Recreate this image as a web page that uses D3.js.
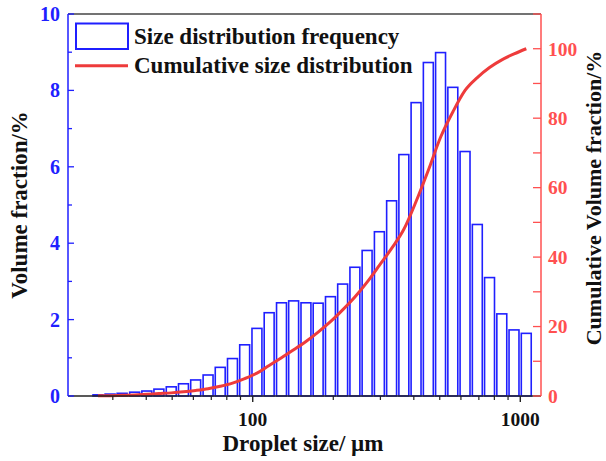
<!DOCTYPE html>
<html lang="en">
<head>
    <meta charset="UTF-8">
    <title>Droplet size distribution</title>
    <script src="https://d3js.org/d3.v7.min.js"></script>
    <style>
        body { margin: 0; background: #fff; }
        text { font-family: "Liberation Serif", "Times New Roman", serif; font-weight: bold; }
    </style>
</head>
<body>
    <div id="chart"></div>
    <script>
        // droplet size (bin centre, um)
        const sizes = [26.4, 29.3, 32.5, 36.2, 40.2, 44.6, 49.6, 55.1, 61.2, 68.1, 75.6, 84.0,
            93.3, 103.7, 115.2, 128.1, 142.2, 158.1, 175.6, 195.2, 216.8, 240.9, 267.6, 297.4,
            330.4, 367.1, 407.8, 453.2, 503.5, 559.5, 621.6, 690.8, 767.4, 852.8, 947.3, 1052.7];
        // volume fraction per bin (%)
        const frequency = [0.03, 0.05, 0.07, 0.10, 0.13, 0.18, 0.24, 0.32, 0.42, 0.55, 0.75, 0.98,
            1.34, 1.77, 2.18, 2.44, 2.49, 2.44, 2.43, 2.60, 2.93, 3.37, 3.81, 4.30,
            5.11, 6.32, 7.68, 8.73, 8.99, 8.08, 6.40, 4.49, 3.10, 2.15, 1.73, 1.64];
        // cumulative volume fraction (%)
        const cumulative = [0.05, 0.1, 0.2, 0.3, 0.5, 0.7, 0.9, 1.2, 1.6, 2.1, 2.8, 3.7,
            5.0, 6.6, 8.8, 11.0, 13.3, 15.7, 18.4, 21.4, 24.8, 28.5, 32.8, 37.6,
            42.5, 48.0, 56.0, 65.0, 74.5, 81.8, 88.0, 91.7, 94.6, 96.8, 98.5, 100.0];

        const leftTicks = [0, 2, 4, 6, 8, 10];
        const rightTicks = [0, 20, 40, 60, 80, 100];
        const xTicks = [100, 1000];

        const width = 606, height = 461;
        const margin = { top: 14, right: 65, bottom: 65, left: 68 };
        const blue = "#1f1fff", red = "#ee3b3b", redAxis = "#ff5050";

        const svg = d3.select("#chart").append("svg")
            .attr("width", width)
            .attr("height", height);

        const x = d3.scaleLog().domain([20.4, 1195]).range([margin.left, width - margin.right]);
        const y = d3.scaleLinear().domain([0, 10]).range([height - margin.bottom, margin.top]);
        const y2 = d3.scaleLinear().domain([0, 110]).range([height - margin.bottom, margin.top]);

        // bin ratio between neighbouring bars, bar covers ~82% of it
        const ratio = sizes[1] / sizes[0];
        const half = Math.pow(ratio, 0.41);

        // bars
        svg.append("g")
            .selectAll("rect")
            .data(frequency)
            .enter()
            .append("rect")
            .attr("x", (d, i) => x(sizes[i] / half))
            .attr("width", (d, i) => x(sizes[i] * half) - x(sizes[i] / half))
            .attr("y", d => y(d))
            .attr("height", d => y(0) - y(d))
            .attr("fill", "#fff")
            .attr("stroke", blue)
            .attr("stroke-width", 1.6);

        // cumulative curve
        const line = d3.line()
            .x((d, i) => x(sizes[i]))
            .y(d => y2(d))
            .curve(d3.curveMonotoneX);

        svg.append("path")
            .datum(cumulative)
            .attr("d", line)
            .attr("fill", "none")
            .attr("stroke", red)
            .attr("stroke-width", 3);

        // top frame
        svg.append("line")
            .attr("x1", margin.left).attr("x2", width - margin.right)
            .attr("y1", margin.top).attr("y2", margin.top)
            .attr("stroke", "#444").attr("stroke-width", 1.5);

        // bottom axis
        const minorX = d3.range(30, 100, 10).concat(d3.range(200, 1000, 100));
        const gx = svg.append("g").attr("transform", `translate(0,${height - margin.bottom})`);
        gx.append("line")
            .attr("x1", margin.left).attr("x2", width - margin.right)
            .attr("stroke", "#222").attr("stroke-width", 1.5);
        gx.selectAll(".minor").data(minorX).enter().append("line")
            .attr("x1", d => x(d)).attr("x2", d => x(d))
            .attr("y1", 0).attr("y2", 4)
            .attr("stroke", "#222").attr("stroke-width", 1.2);
        gx.selectAll(".major").data(xTicks).enter().append("line")
            .attr("x1", d => x(d)).attr("x2", d => x(d))
            .attr("y1", 0).attr("y2", 6)
            .attr("stroke", "#222").attr("stroke-width", 1.4);
        gx.selectAll("text").data(xTicks).enter().append("text")
            .attr("x", d => x(d)).attr("y", 30)
            .attr("text-anchor", "middle")
            .attr("font-size", 19.5)
            .attr("fill", "#111")
            .text(d => d);

        // left axis
        const gl = svg.append("g").attr("transform", `translate(${margin.left},0)`);
        gl.append("line")
            .attr("y1", margin.top).attr("y2", height - margin.bottom)
            .attr("stroke", blue).attr("stroke-width", 1.5);
        gl.selectAll(".tick").data(d3.range(0, 11, 1)).enter().append("line")
            .attr("y1", d => y(d)).attr("y2", d => y(d))
            .attr("x1", 0).attr("x2", d => d % 2 === 0 ? 6 : 4)
            .attr("stroke", blue).attr("stroke-width", 1.3);
        gl.selectAll("text").data(leftTicks).enter().append("text")
            .attr("x", -8).attr("y", d => y(d))
            .attr("dy", "0.35em")
            .attr("text-anchor", "end")
            .attr("font-size", 20)
            .attr("fill", blue)
            .text(d => d);

        // right axis
        const gr = svg.append("g").attr("transform", `translate(${width - margin.right},0)`);
        gr.append("line")
            .attr("y1", margin.top).attr("y2", height - margin.bottom)
            .attr("stroke", redAxis).attr("stroke-width", 1.5);
        gr.selectAll(".tick").data(d3.range(0, 111, 10)).enter().append("line")
            .attr("y1", d => y2(d)).attr("y2", d => y2(d))
            .attr("x1", 0).attr("x2", -8)
            .attr("stroke", redAxis).attr("stroke-width", 1.3);
        gr.selectAll("text").data(rightTicks).enter().append("text")
            .attr("x", 7).attr("y", d => y2(d))
            .attr("dy", "0.35em")
            .attr("font-size", 19.5)
            .attr("fill", redAxis)
            .text(d => d);

        // axis titles
        svg.append("text")
            .attr("x", 303).attr("y", 451)
            .attr("text-anchor", "middle")
            .attr("font-size", 23)
            .attr("fill", "#111")
            .text("Droplet size/ µm");

        svg.append("text")
            .attr("transform", `translate(27,${(margin.top + height - margin.bottom) / 2}) rotate(-90)`)
            .attr("text-anchor", "middle")
            .attr("font-size", 23)
            .attr("fill", "#111")
            .text("Volume fraction/%");

        svg.append("text")
            .attr("transform", `translate(601,198) rotate(-90)`)
            .attr("text-anchor", "middle")
            .attr("font-size", 22)
            .attr("fill", "#111")
            .text("Cumulative Volume fraction/%");

        // legend
        const legend = svg.append("g");
        legend.append("rect")
            .attr("x", 76).attr("y", 23.5)
            .attr("width", 52).attr("height", 25.5)
            .attr("fill", "none")
            .attr("stroke", blue).attr("stroke-width", 2);
        legend.append("text")
            .attr("x", 134).attr("y", 44)
            .attr("font-size", 23)
            .attr("fill", "#111")
            .text("Size distribution frequency");
        legend.append("line")
            .attr("x1", 75).attr("x2", 128)
            .attr("y1", 65.7).attr("y2", 65.7)
            .attr("stroke", red).attr("stroke-width", 3);
        legend.append("text")
            .attr("x", 134).attr("y", 72.7)
            .attr("font-size", 23)
            .attr("fill", "#111")
            .text("Cumulative size distribution");
    </script>
</body>
</html>
